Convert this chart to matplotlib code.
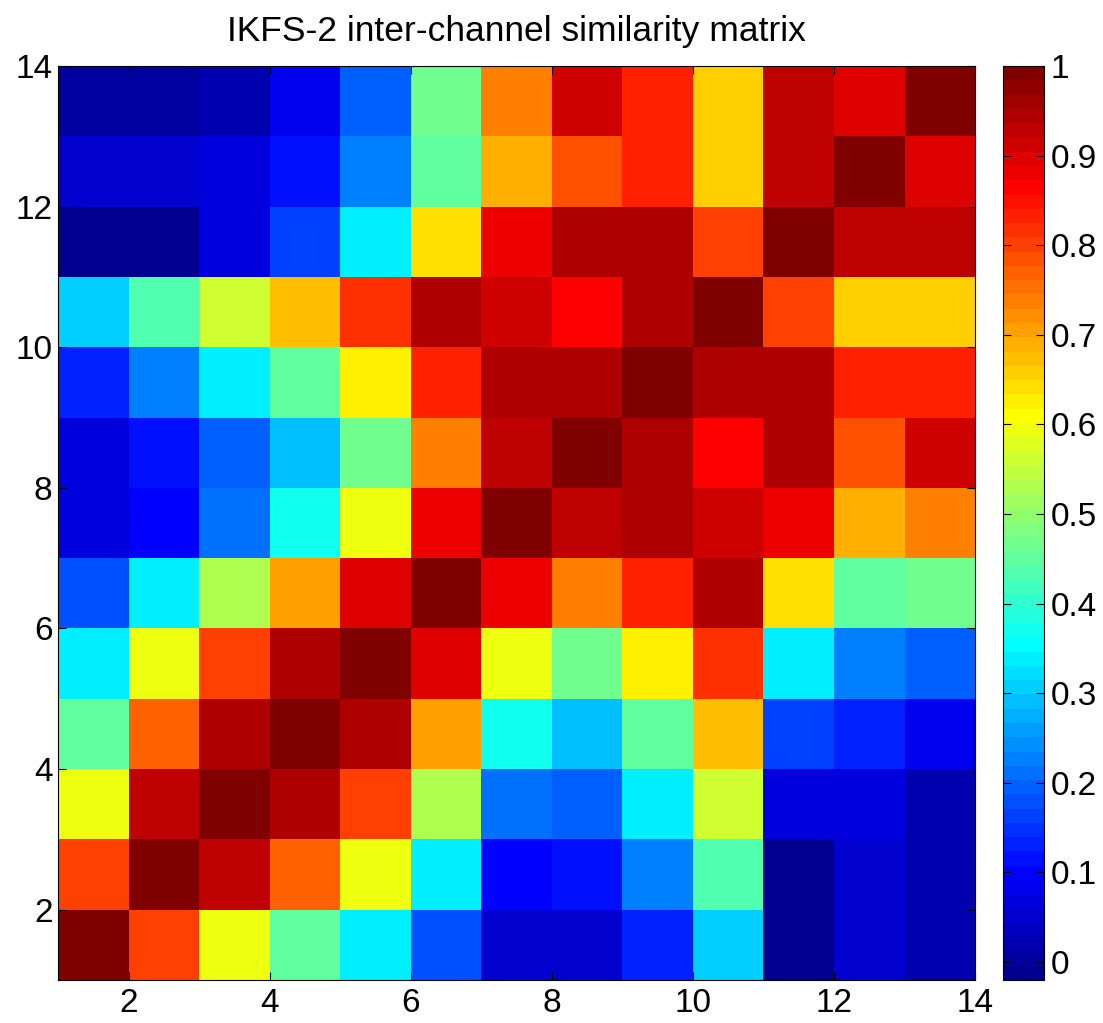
import numpy as np
import matplotlib.pyplot as plt
from matplotlib.colors import ListedColormap

plt.rcParams['font.family'] = ['Liberation Sans', 'DejaVu Sans']

# similarity values, rows from bottom (channel 1) to top (channel 13)
row1 = [0.991, 0.8, 0.593, 0.45, 0.338, 0.179, 0.052, 0.052, 0.131, 0.307, -0.012, 0.052, 0.02]
row2 = [0.8, 0.991, 0.927, 0.768, 0.593, 0.338, 0.1, 0.115, 0.227, 0.434, -0.012, 0.052, 0.02]
row3 = [0.593, 0.927, 0.991, 0.943, 0.8, 0.529, 0.211, 0.195, 0.338, 0.561, 0.068, 0.068, 0.02]
row4 = [0.45, 0.768, 0.943, 0.991, 0.943, 0.704, 0.37, 0.291, 0.45, 0.673, 0.163, 0.131, 0.084]
row5 = [0.338, 0.593, 0.8, 0.943, 0.991, 0.896, 0.593, 0.466, 0.625, 0.816, 0.338, 0.227, 0.195]
row6 = [0.179, 0.338, 0.529, 0.704, 0.896, 0.991, 0.88, 0.736, 0.832, 0.943, 0.641, 0.45, 0.466]
row7 = [0.068, 0.1, 0.211, 0.37, 0.593, 0.88, 0.991, 0.927, 0.943, 0.911, 0.88, 0.688, 0.736]
row8 = [0.068, 0.115, 0.195, 0.291, 0.466, 0.736, 0.927, 0.991, 0.943, 0.864, 0.943, 0.784, 0.911]
row9 = [0.131, 0.227, 0.338, 0.45, 0.625, 0.832, 0.943, 0.943, 0.991, 0.943, 0.943, 0.832, 0.832]
row10 = [0.307, 0.434, 0.561, 0.68, 0.816, 0.943, 0.911, 0.864, 0.943, 0.991, 0.8, 0.657, 0.657]
row11 = [-0.012, -0.012, 0.068, 0.163, 0.338, 0.641, 0.88, 0.943, 0.943, 0.8, 0.991, 0.927, 0.927]
row12 = [0.052, 0.052, 0.068, 0.115, 0.227, 0.45, 0.688, 0.784, 0.832, 0.657, 0.927, 0.991, 0.896]
row13 = [0.004, 0.004, 0.02, 0.084, 0.195, 0.466, 0.736, 0.911, 0.832, 0.657, 0.927, 0.896, 0.991]

edges = np.arange(1, 15)
ticks = [2, 4, 6, 8, 10, 12, 14]
cbar_ticks = [0, 0.1, 0.2, 0.3, 0.4, 0.5, 0.6, 0.7, 0.8, 0.9, 1]
cbar_labels = ['0', '0.1', '0.2', '0.3', '0.4', '0.5', '0.6', '0.7', '0.8', '0.9', '1']


def matlab_jet(m=64):
    # same construction as MATLAB's jet(m)
    n = int(np.ceil(m / 4))
    u = np.concatenate([np.arange(1, n + 1) / n, np.ones(n - 1), np.arange(n, 0, -1) / n])
    g = int(np.ceil(n / 2)) - (m % 4 == 1) + np.arange(1, len(u) + 1)
    r = g + n
    b = g - n
    J = np.zeros((m, 3))
    J[r[r <= m] - 1, 0] = u[r <= m]
    J[g[g <= m] - 1, 1] = u[g <= m]
    J[b[b >= 1] - 1, 2] = u[b >= 1]
    return ListedColormap(J)


M = np.array([row1, row2, row3, row4, row5, row6, row7, row8, row9,
              row10, row11, row12, row13])

fig = plt.figure(figsize=(11.03, 10.23), dpi=100)
ax = fig.add_axes([0.0526, 0.042, 0.8314, 0.8935])
cax = fig.add_axes([0.9093, 0.042, 0.0372, 0.8935])

mesh = ax.pcolormesh(edges, edges, M, cmap=matlab_jet(64), vmin=-0.02, vmax=1.0)
ax.set_xlim(1, 14)
ax.set_ylim(1, 14)
ax.set_xticks(ticks)
ax.set_yticks(ticks)
ax.tick_params(direction='in', labelsize=24, length=6, top=True, right=True)
ax.tick_params(axis='x', pad=6)
ax.tick_params(axis='y', pad=4)
ax.set_title('IKFS-2 inter-channel similarity matrix', fontsize=25.5, pad=18)

cb = fig.colorbar(mesh, cax=cax)
cb.set_ticks(cbar_ticks)
cb.set_ticklabels(cbar_labels)
cb.ax.tick_params(direction='in', labelsize=24, length=6, left=True, right=True, pad=5)
cb.outline.set_linewidth(0.8)

fig.savefig('out.png', dpi=100)
